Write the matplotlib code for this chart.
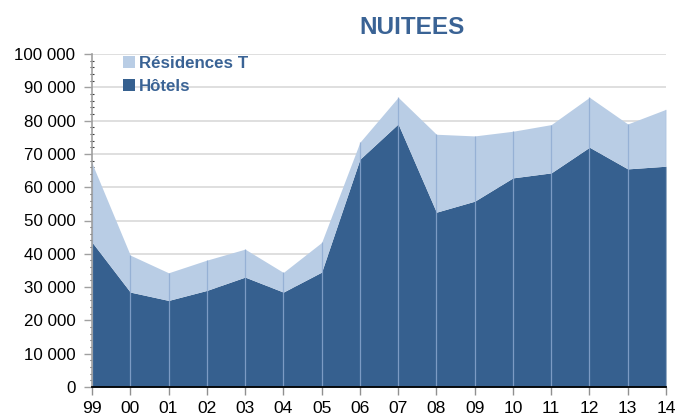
import matplotlib
matplotlib.use("Agg")
import matplotlib.pyplot as plt
from matplotlib.patches import Patch
from matplotlib.ticker import MultipleLocator, FuncFormatter

years = ["99", "00", "01", "02", "03", "04", "05", "06", "07", "08", "09", "10", "11", "12", "13", "14"]
hotels = [43500, 28500, 26000, 29000, 33000, 28500, 34500, 68400, 79000, 52500, 55800, 62800, 64300, 72000, 65500, 66300]
residences = [23700, 11100, 8300, 9100, 8400, 5900, 8900, 5100, 8000, 23400, 19600, 14000, 14500, 15000, 13500, 17100]

dark = "#36608F"
light = "#B9CDE5"
txtblue = "#3A6395"

plt.rcParams['font.family'] = ['Liberation Sans', 'DejaVu Sans']

fig = plt.figure(figsize=(6.76, 4.17), dpi=100)
ax = fig.add_axes([92/676, 30/417, (666-92)/676, (387-54)/417])

x = list(range(len(years)))
totals = [h + r for h, r in zip(hotels, residences)]
ax.fill_between(x, 0, hotels, color=dark, lw=0, zorder=2)
ax.fill_between(x, hotels, totals, color=light, lw=0, zorder=2)
ax.vlines(x, 0, totals, color="#8EAAD2", lw=0.9, alpha=0.8, zorder=3)

ax.set_xlim(0, len(years) - 1)
ax.set_ylim(0, 100000)
ax.set_xticks(x)
ax.set_xticklabels(years)
ax.yaxis.set_major_locator(MultipleLocator(10000))
ax.yaxis.set_minor_locator(MultipleLocator(2000))
ax.yaxis.set_major_formatter(FuncFormatter(lambda v, p: f"{int(v):,}".replace(",", " ")))
ax.grid(axis="y", color="#D9D9D9", lw=1.2, zorder=0)
ax.set_axisbelow(True)

for s in ["top", "right"]:
    ax.spines[s].set_visible(False)
ax.spines["left"].set_color("#A0A0A0")
ax.spines["left"].set_linewidth(1.2)
ax.spines["left"].set_zorder(4)
ax.spines["bottom"].set_color("black")
ax.spines["bottom"].set_linewidth(1.3)
ax.spines["bottom"].set_zorder(4)

ax.tick_params(axis="y", which="major", length=6, color="#A0A0A0", labelsize=12.2, pad=6, width=1)
ax.tick_params(axis="y", which="minor", length=3, direction="inout", color="#404040", width=0.8)
ax.tick_params(axis="x", which="major", length=6, color="#909090", labelsize=12.6, pad=4, width=1)

fig.text(412/676, 1 - 27/417, "NUITEES", ha="center", va="center", fontsize=17.5,
         fontweight="bold", color=txtblue)

handles = [Patch(facecolor=light, edgecolor="none"), Patch(facecolor=dark, edgecolor="none")]
leg = ax.legend(handles, ["Résidences T", "Hôtels"], loc="upper left",
                bbox_to_anchor=(0.027, 1.04), frameon=False,
                handlelength=0.7, handleheight=0.7, handletextpad=0.25,
                labelspacing=0.45, prop={"weight": "bold", "size": 12.2})
for t in leg.get_texts():
    t.set_color(txtblue)

fig.savefig("out.png", dpi=100)
